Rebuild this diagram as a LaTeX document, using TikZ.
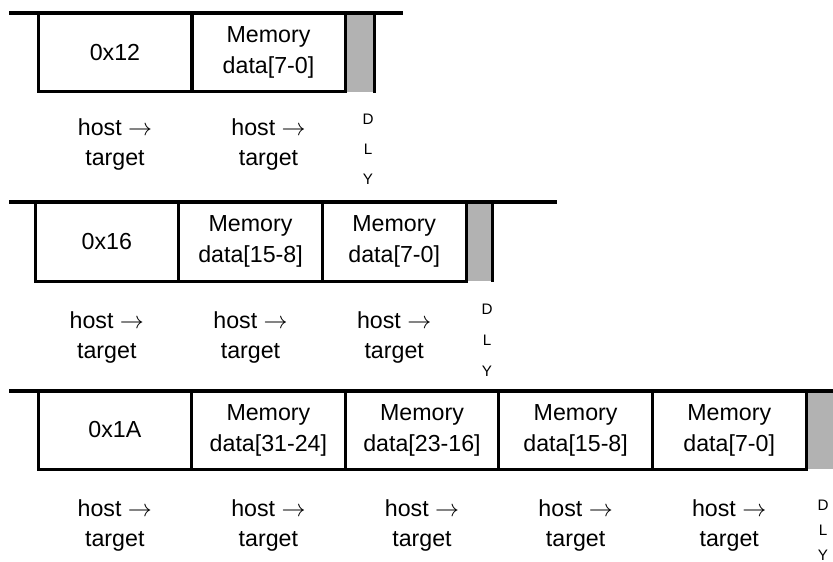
\documentclass[tikz,border=0pt]{standalone}
\usepackage{fontspec}
\setmainfont{Liberation Sans}
\usetikzlibrary{positioning}

\begin{document}
\begin{tikzpicture}[x=0.5pt, y=-0.5pt, line join=miter,
    cell/.style={draw, line width=1.5pt, inner sep=0pt, align=center,
      font=\fontsize{11.6}{15.5}\selectfont},
    dirlabel/.style={inner sep=0pt, align=center, font=\fontsize{11.6}{15}\selectfont},
    dlylabel/.style={inner sep=0pt, align=center, font=\fontsize{7.6}{15}\selectfont},
    delay/.style={fill=gray!60, inner sep=0pt, anchor=north west},
    bus/.style={line width=1.6pt}]
  \useasboundingbox (0,0) rectangle (833,561);

  % single byte write
  \coordinate (b1s) at (9,13);
  \coordinate (b1e) at (403,13);
  \node[delay, minimum width=14.5pt, minimum height=39.5pt] (g1) at (345,13) {};
  \draw[bus] (b1s) -- (b1e);
  \draw[line width=1.5pt] (g1.north east) -- (g1.south east);
  \foreach \i/\txt in {0/0x12, 1/{Memory\\data[7-0]}} {
    \node[cell, minimum width=77pt, minimum height=39.5pt] (a\i) at (115+153.5*\i,52.5) {\txt};
    \node[dirlabel] (ha\i) at (115+153.5*\i,145) {host $\rightarrow$\\target};
  }
  \node[dlylabel] (d1) at (368,149) {D\\L\\Y};

  % two byte write
  \coordinate (b2s) at (9,202);
  \coordinate (b2e) at (557,202);
  \node[delay, minimum width=13pt, minimum height=39.5pt] (g2) at (466,202) {};
  \draw[bus] (b2s) -- (b2e);
  \draw[line width=1.5pt] (g2.north east) -- (g2.south east);
  \foreach \i/\txt in {0/0x16, 1/{Memory\\data[15-8]}, 2/{Memory\\data[7-0]}} {
    \node[cell, minimum width=71.8pt, minimum height=39.5pt] (b\i) at (106.8+143.7*\i,241.5) {\txt};
    \node[dirlabel] (hb\i) at (106.8+143.7*\i,337) {host $\rightarrow$\\target};
  }
  \node[dlylabel, font=\fontsize{7.6}{15.5}\selectfont] (d2) at (487,340) {D\\L\\Y};

  % four byte write
  \coordinate (b3s) at (9,391);
  \coordinate (b3e) at (833,391);
  \node[delay, minimum width=16pt, minimum height=39pt] (g3) at (806,391) {};
  \draw[bus] (b3s) -- (b3e);
  \foreach \i/\txt in {0/0x1A, 1/{Memory\\data[31-24]}, 2/{Memory\\data[23-16]},
      3/{Memory\\data[15-8]}, 4/{Memory\\data[7-0]}} {
    \node[cell, minimum width=76.8pt, minimum height=39pt] (c\i) at (114.8+153.6*\i,430) {\txt};
    \node[dirlabel] (hc\i) at (114.8+153.6*\i,525) {host $\rightarrow$\\target};
  }
  \node[dlylabel, font=\fontsize{7.6}{12.5}\selectfont] (d3) at (823,530) {D\\L\\Y};
\end{tikzpicture}
\end{document}
